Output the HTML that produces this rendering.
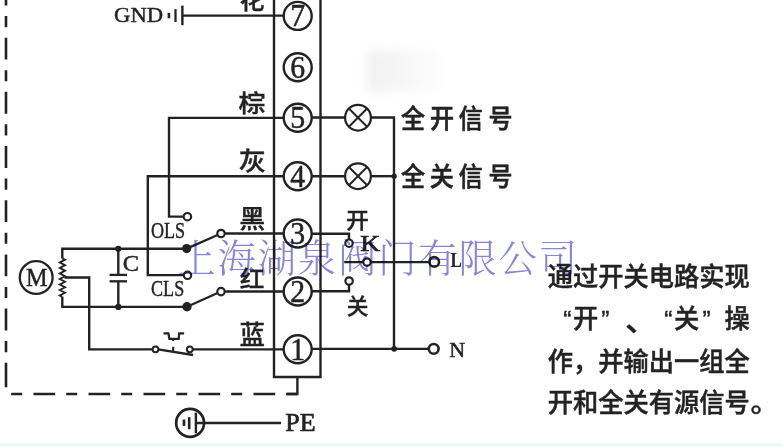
<!DOCTYPE html>
<html><head><meta charset="utf-8"><title>wiring</title>
<style>
html,body{margin:0;padding:0;background:#fff;}
body{width:783px;height:446px;overflow:hidden;font-family:"Liberation Serif",serif;}
svg{display:block;}
</style></head><body>
<svg width="783" height="446" viewBox="0 0 783 446">
<defs><linearGradient id="pg" x1="0" x2="1" y1="0" y2="0"><stop offset="0" stop-color="#000" stop-opacity="0.055"/><stop offset="0.45" stop-color="#000" stop-opacity="0.035"/><stop offset="1" stop-color="#000" stop-opacity="0"/></linearGradient><filter id="pb" x="-30%" y="-30%" width="160%" height="160%"><feGaussianBlur stdDeviation="5"/></filter><filter id="soft" x="0" y="0" width="100%" height="100%" filterUnits="userSpaceOnUse"><feGaussianBlur stdDeviation="0.45"/></filter></defs>
<rect x="0" y="0" width="783" height="446" fill="#ffffff"/>
<g filter="url(#soft)">
<rect x="0" y="443.4" width="783" height="3" fill="#ebf8fb" stroke="none"/>
<rect x="366" y="50" width="80" height="42" fill="url(#pg)" filter="url(#pb)" stroke="none"/>
<g stroke="#242424" fill="none" stroke-linecap="butt">
<line x1="6.00" y1="-16.47" x2="6.00" y2="362.00" stroke-width="2.60" stroke-dasharray="21.9 10.6 11.1 10.57"/>
<line x1="6.00" y1="362.70" x2="6.00" y2="387.30" stroke-width="2.60" />
<line x1="11.20" y1="394.00" x2="297.60" y2="394.00" stroke-width="2.60" stroke-dasharray="11 11.3 21.7 11"/>
<polyline points="286.70,394.00 297.40,394.00 297.40,377.00" stroke-width="2.40" fill="none" />
<polyline points="274.00,-2.00 274.00,377.00 320.50,377.00 320.50,-2.00" stroke-width="2.40" fill="none" />
<line x1="182.30" y1="15.60" x2="283.70" y2="15.60" stroke-width="2.40" />
<line x1="168.90" y1="12.90" x2="168.90" y2="18.30" stroke-width="2.60" />
<line x1="175.50" y1="9.20" x2="175.50" y2="22.00" stroke-width="2.30" />
<line x1="182.40" y1="5.60" x2="182.40" y2="25.20" stroke-width="2.40" />
<polyline points="283.70,117.90 169.00,117.90 169.00,216.60 184.00,216.60" stroke-width="2.40" fill="none" />
<polyline points="283.70,176.20 147.80,176.20 147.80,275.10 183.80,275.10" stroke-width="2.40" fill="none" />
<line x1="224.00" y1="233.50" x2="283.70" y2="233.50" stroke-width="2.40" />
<line x1="224.00" y1="291.50" x2="283.70" y2="291.50" stroke-width="2.40" />
<line x1="193.00" y1="349.40" x2="283.70" y2="349.40" stroke-width="2.40" />
<polyline points="186.70,248.80 62.30,248.80 62.30,258.50" stroke-width="2.40" fill="none" />
<polyline points="187.00,306.90 62.30,306.90 62.30,296.80" stroke-width="2.40" fill="none" />
<polyline points="62.30,258.30 65.00,259.68 59.80,262.44 65.00,265.19 59.80,267.95 65.00,270.71 59.80,273.46 65.00,276.22 59.80,278.98 65.00,281.74 59.80,284.49 65.00,287.25 59.80,290.01 65.00,292.76 59.80,295.52 62.30,296.90" stroke-width="1.90" fill="none" stroke-linejoin="miter"/>
<polyline points="64.50,277.50 89.20,277.50 89.20,349.40 152.30,349.40" stroke-width="2.40" fill="none" />
<line x1="118.30" y1="248.80" x2="118.30" y2="274.80" stroke-width="2.40" />
<line x1="118.30" y1="281.30" x2="118.30" y2="306.90" stroke-width="2.40" />
<line x1="109.60" y1="274.90" x2="127.00" y2="274.90" stroke-width="2.30" />
<line x1="109.60" y1="281.30" x2="127.00" y2="281.30" stroke-width="2.30" />
<line x1="186.70" y1="248.60" x2="218.20" y2="234.80" stroke-width="2.30" />
<line x1="187.00" y1="306.70" x2="218.20" y2="292.70" stroke-width="2.30" />
<line x1="158.00" y1="349.30" x2="193.10" y2="355.00" stroke-width="2.30" />
<line x1="173.20" y1="346.80" x2="173.20" y2="351.80" stroke-width="2.10" />
<line x1="173.20" y1="338.80" x2="173.20" y2="341.00" stroke-width="2.10" />
<polyline points="163.50,333.40 168.40,333.40 169.40,338.80 178.70,338.80 179.20,333.40 184.10,333.40" stroke-width="2.20" fill="none" />
<line x1="311.70" y1="117.50" x2="345.10" y2="117.50" stroke-width="2.40" />
<line x1="311.70" y1="176.20" x2="345.10" y2="176.20" stroke-width="2.40" />
<polyline points="370.90,117.50 394.00,117.50 394.00,348.80" stroke-width="2.40" fill="none" />
<line x1="370.90" y1="176.20" x2="394.00" y2="176.20" stroke-width="2.40" />
<polyline points="311.70,233.70 349.00,233.70 349.00,240.00" stroke-width="2.40" fill="none" />
<polyline points="311.70,291.20 349.00,291.20 349.00,284.30" stroke-width="2.40" fill="none" />
<line x1="344.20" y1="262.10" x2="429.50" y2="262.10" stroke-width="2.40" />
<line x1="311.70" y1="348.90" x2="429.00" y2="348.90" stroke-width="2.40" />
<line x1="195.90" y1="423.00" x2="281.00" y2="423.00" stroke-width="2.40" />
<line x1="184.00" y1="419.50" x2="184.00" y2="425.90" stroke-width="2.70" />
<line x1="189.20" y1="417.20" x2="189.20" y2="429.20" stroke-width="2.60" />
<line x1="195.90" y1="412.60" x2="195.90" y2="433.30" stroke-width="2.40" />
<circle cx="190.1" cy="422.9" r="13.95" stroke-width="2.7" fill="none"/>
<circle cx="36.2" cy="277.5" r="16.4" stroke-width="2.3" fill="none"/>
<circle cx="187.40" cy="216.70" r="3.70" stroke-width="2.20" fill="#fff"/>
<circle cx="187.50" cy="275.30" r="3.70" stroke-width="2.20" fill="#fff"/>
<circle cx="221.00" cy="233.50" r="3.70" stroke-width="2.20" fill="#fff"/>
<circle cx="221.00" cy="291.60" r="3.70" stroke-width="2.20" fill="#fff"/>
<circle cx="349.00" cy="243.20" r="3.70" stroke-width="2.20" fill="#fff"/>
<circle cx="349.10" cy="281.00" r="3.70" stroke-width="2.20" fill="#fff"/>
<circle cx="367.00" cy="262.10" r="3.70" stroke-width="2.20" fill="#fff"/>
<circle cx="155.50" cy="349.30" r="2.90" stroke-width="2.00" fill="#fff"/>
<circle cx="189.80" cy="349.30" r="2.90" stroke-width="2.00" fill="#fff"/>
<circle cx="434.20" cy="261.90" r="4.80" stroke-width="2.60" fill="#fff"/>
<circle cx="433.70" cy="348.85" r="4.90" stroke-width="2.60" fill="#fff"/>
<circle cx="358.00" cy="117.70" r="12.90" stroke-width="2.20" fill="#fff"/>
<line x1="348.88" y1="108.58" x2="367.12" y2="126.82" stroke-width="2.00" />
<line x1="348.88" y1="126.82" x2="367.12" y2="108.58" stroke-width="2.00" />
<circle cx="358.00" cy="176.20" r="12.90" stroke-width="2.20" fill="#fff"/>
<line x1="348.88" y1="167.08" x2="367.12" y2="185.32" stroke-width="2.00" />
<line x1="348.88" y1="185.32" x2="367.12" y2="167.08" stroke-width="2.00" />
<circle cx="297.70" cy="349.30" r="14.00" stroke-width="2.40" fill="#fff"/>
<circle cx="297.70" cy="291.50" r="14.00" stroke-width="2.40" fill="#fff"/>
<circle cx="297.70" cy="233.50" r="14.00" stroke-width="2.40" fill="#fff"/>
<circle cx="297.70" cy="176.20" r="14.00" stroke-width="2.40" fill="#fff"/>
<circle cx="297.70" cy="117.70" r="14.00" stroke-width="2.40" fill="#fff"/>
<circle cx="297.70" cy="67.30" r="14.00" stroke-width="2.40" fill="#fff"/>
<circle cx="297.70" cy="15.90" r="14.00" stroke-width="2.40" fill="#fff"/>
</g>
<circle cx="186.70" cy="248.60" r="4.60" stroke="none" fill="#242424"/>
<circle cx="187.00" cy="306.80" r="4.70" stroke="none" fill="#242424"/>
<circle cx="118.30" cy="248.80" r="3.10" stroke="none" fill="#242424"/>
<circle cx="118.30" cy="306.90" r="3.10" stroke="none" fill="#242424"/>
<circle cx="394.20" cy="176.20" r="2.60" stroke="none" fill="#242424"/>
<circle cx="394.20" cy="348.80" r="2.90" stroke="none" fill="#242424"/>
<g fill="#242424" stroke="#242424" font-family="'Liberation Serif', serif">
<text x="0.00" y="0.00" font-size="31.00" text-anchor="middle" font-weight="normal" stroke-width="0.50" transform="translate(297.70 359.80) scale(0.9600 1)">1</text>
<text x="0.00" y="0.00" font-size="31.00" text-anchor="middle" font-weight="normal" stroke-width="0.50" transform="translate(297.70 302.00) scale(0.9600 1)">2</text>
<text x="0.00" y="0.00" font-size="31.00" text-anchor="middle" font-weight="normal" stroke-width="0.50" transform="translate(297.70 244.00) scale(0.9600 1)">3</text>
<text x="0.00" y="0.00" font-size="31.00" text-anchor="middle" font-weight="normal" stroke-width="0.50" transform="translate(297.70 186.70) scale(0.9600 1)">4</text>
<text x="0.00" y="0.00" font-size="31.00" text-anchor="middle" font-weight="normal" stroke-width="0.50" transform="translate(297.70 128.20) scale(0.9600 1)">5</text>
<text x="0.00" y="0.00" font-size="31.00" text-anchor="middle" font-weight="normal" stroke-width="0.50" transform="translate(297.70 77.80) scale(0.9600 1)">6</text>
<text x="0.00" y="0.00" font-size="31.00" text-anchor="middle" font-weight="normal" stroke-width="0.50" transform="translate(297.70 26.40) scale(0.9600 1)">7</text>
<text x="0" y="0" font-size="21.58" font-weight="normal" stroke-width="0.45" transform="translate(114.07 22.29) scale(1.0487 1)">GND</text>
<text x="0" y="0" font-size="23.37" font-weight="normal" stroke-width="0.45" transform="translate(150.96 238.07) scale(0.7739 1)">OLS</text>
<text x="0" y="0" font-size="22.92" font-weight="normal" stroke-width="0.45" transform="translate(151.06 296.48) scale(0.7889 1)">CLS</text>
<text x="0" y="0" font-size="22.77" font-weight="normal" stroke-width="0.45" transform="translate(122.69 270.88) scale(1.0771 1)">C</text>
<text x="0" y="0" font-size="25.50" font-weight="normal" stroke-width="0.45" transform="translate(25.90 285.80) scale(0.9530 1)">M</text>
<text x="0" y="0" font-size="23.98" font-weight="normal" stroke-width="0.70" transform="translate(360.20 251.30) scale(1.1539 1)">K</text>
<text x="0" y="0" font-size="20.46" font-weight="bold" stroke-width="0.20" transform="translate(450.61 266.90) scale(0.8279 1)">L</text>
<text x="0" y="0" font-size="21.99" font-weight="normal" stroke-width="0.45" transform="translate(449.26 357.40) scale(1.0038 1)">N</text>
<text x="0" y="0" font-size="25.35" font-weight="normal" stroke-width="0.70" transform="translate(285.25 431.20) scale(1.0256 1)">PE</text>
</g>
<g fill="#242424" stroke="#242424" stroke-width="0.35" font-family="'Liberation Sans', 'Noto Sans CJK SC', sans-serif" font-weight="500">
<text x="0" y="0" font-size="24.14" transform="translate(238.43 112.40) scale(1.117 1)">棕</text>
<text x="0" y="0" font-size="25.32" transform="translate(238.72 169.82) scale(1.0715 1)">灰</text>
<text x="0" y="0" font-size="24.78" transform="translate(239.17 227.82) scale(1.049 1)">黑</text>
<text x="0" y="0" font-size="22.76" transform="translate(239.83 287.18) scale(1.083 1)">红</text>
<text x="0" y="0" font-size="25.88" transform="translate(239.38 344.05) scale(0.985 1)">蓝</text>
<text x="0" y="0" font-size="24.89" transform="translate(239.50 8.81) scale(1.0056 1)">花</text>
<text x="0" y="0" font-size="22.18" transform="translate(345.98 227.65) scale(1.0325 1)">开</text>
<text x="0" y="0" font-size="21.81" transform="translate(346.63 313.77) scale(0.993 1)">关</text>
<g stroke-width="0.6">
<text x="0 31.20 62.42 94.79" y="0" font-size="26.07" transform="translate(401.09 128.09) scale(0.923 1)">全开信号</text>
<text x="0 31.13 62.42 94.79" y="0" font-size="26.07" transform="translate(401.09 185.69) scale(0.923 1)">全关信号</text>
</g>
<g stroke-width="0.45">
<text x="0" y="0" font-size="26.5" transform="translate(547.87 286.49) scale(0.9525 1)">通过开关电路实现</text>
<text x="563.3" y="327.87" font-size="24.5">“</text>
<text x="0" y="0" font-size="26.5" transform="translate(573.11 327.99) scale(0.9525 1)">开</text>
<text x="601.3" y="327.74" font-size="24.5">”</text>
<text x="0" y="0" font-size="28.67" transform="translate(624.98 331.35) scale(1.128 1)">、</text>
<text x="664.3" y="327.87" font-size="24.5">“</text>
<text x="0" y="0" font-size="26.5" transform="translate(674.07 327.99) scale(0.9525 1)">关</text>
<text x="702.5" y="327.74" font-size="24.5">”</text>
<text x="0" y="0" font-size="26.5" transform="translate(724.55 327.99) scale(0.9525 1)">操</text>
<text x="0" y="0" font-size="26.5" transform="translate(547.87 370.59) scale(0.9525 1)">作，并输出一组全</text>
<text x="0" y="0" font-size="26.5" transform="translate(547.87 411.59) scale(0.9525 1)">开和全关有源信号</text>
<text x="0" y="0" font-size="26.84" transform="translate(750.54 411.60) scale(1.071 1)">。</text>
</g>
</g>
<g fill="#8585da" stroke="none" style="mix-blend-mode:multiply" font-family="'Liberation Serif', 'Noto Serif CJK SC', serif" font-weight="300">
<text x="177.46" y="272" font-size="38.2" letter-spacing="1.95">上海湖泉阀门有限公司</text>
</g>
</g>
</svg>
</body></html>
